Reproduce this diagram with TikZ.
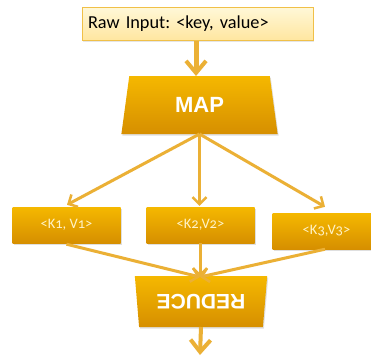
\documentclass[tikz,border=0pt]{standalone}
\usepackage{fontspec}
\setmainfont{Carlito}[Numbers=OldStyle]
\newfontfamily\boldsans{Liberation Sans}[Scale=1]
\usetikzlibrary{shapes.geometric,arrows.meta,shadows}
\frenchspacing
\definecolor{goldtop}{HTML}{F5B800}
\definecolor{goldbot}{HTML}{D68F00}
\definecolor{linegold}{HTML}{EBB035}
\definecolor{rawtop}{HTML}{FFF8D8}
\definecolor{rawbot}{HTML}{FFE6A0}
\definecolor{rawborder}{HTML}{F0C048}
\definecolor{ktext}{HTML}{FFF3C8}
\tikzset{
  goldfill/.style={top color=goldtop, bottom color=goldbot, draw=none,
    drop shadow={opacity=0.25, shadow xshift=1pt, shadow yshift=-1.5pt}},
  kbox/.style={goldfill, minimum width=108pt, minimum height=36pt, inner sep=0pt,
    text=ktext, font=\fontsize{14.5}{16}\selectfont},
  trap/.style={goldfill, trapezium, trapezium stretches=true, inner sep=0pt,
    text=white, font=\boldsans\bfseries},
  bigarrow/.style={draw=linegold, line width=5pt,
    -{Straight Barb[length=12pt,width=20pt,line width=4pt]}},
  conn/.style={draw=linegold, line width=3pt,
    -{Straight Barb[length=7pt,width=14pt,line width=2.5pt]}},
}
\begin{document}
\begin{tikzpicture}[x=1pt,y=-1pt]
\clip (0,0) rectangle (371,356);
\fill[white] (0,0) rectangle (371,356);
\node[draw=rawborder, line width=1pt, top color=rawtop, bottom color=rawbot,
  minimum height=33pt, text width=219pt, align=left, inner xsep=6pt, inner ysep=0pt,
  font=\fontsize{18.3}{20}\selectfont,
  drop shadow={opacity=0.2, shadow xshift=1pt, shadow yshift=-1.5pt}]
  (raw) at (197.5,23.5) {Raw Input: <key, value>};
\node[trap, trapezium angle=79.7, minimum width=157pt, minimum height=58pt,
  font=\boldsans\bfseries\fontsize{22}{24}\selectfont]
  (map) at (199.5,105) {MAP};
\node[kbox] (k1) at (66.5,225) {<K1, V1>};
\node[kbox] (k2) at (200.5,225) {<K2,V2>};
\node[kbox] (k3) at (326.5,231) {<K3,V3>};
\node[trap, rotate=180, trapezium angle=78.4, minimum width=133pt, minimum height=51pt,
  font=\boldsans\bfseries\fontsize{21}{23}\selectfont]
  (reduce) at (201,301.5) {REDUCE};
\coordinate (out) at (200,355);
\coordinate (mapbot) at (199.5,134);
\coordinate (redtop) at (200,277);
\path[bigarrow] (raw.south -| 196,0) -- (196,76);
\path[conn] (mapbot) -- ([xshift=0.5pt,yshift=2pt]k1.north);
\path[conn] (mapbot) -- ([yshift=1pt]k2.north -| mapbot);
\path[conn] (mapbot) -- ([xshift=-1.5pt,yshift=6pt]k3.north);
\path[conn] ([yshift=-1pt]k1.south) -- (redtop);
\path[conn] (k2.south -| redtop) -- (redtop);
\path[conn] ([xshift=-1.5pt]k3.south) -- (redtop);
\path[bigarrow, line width=4pt] (reduce.north |- 0,327) -- (out);
\end{tikzpicture}
\end{document}
